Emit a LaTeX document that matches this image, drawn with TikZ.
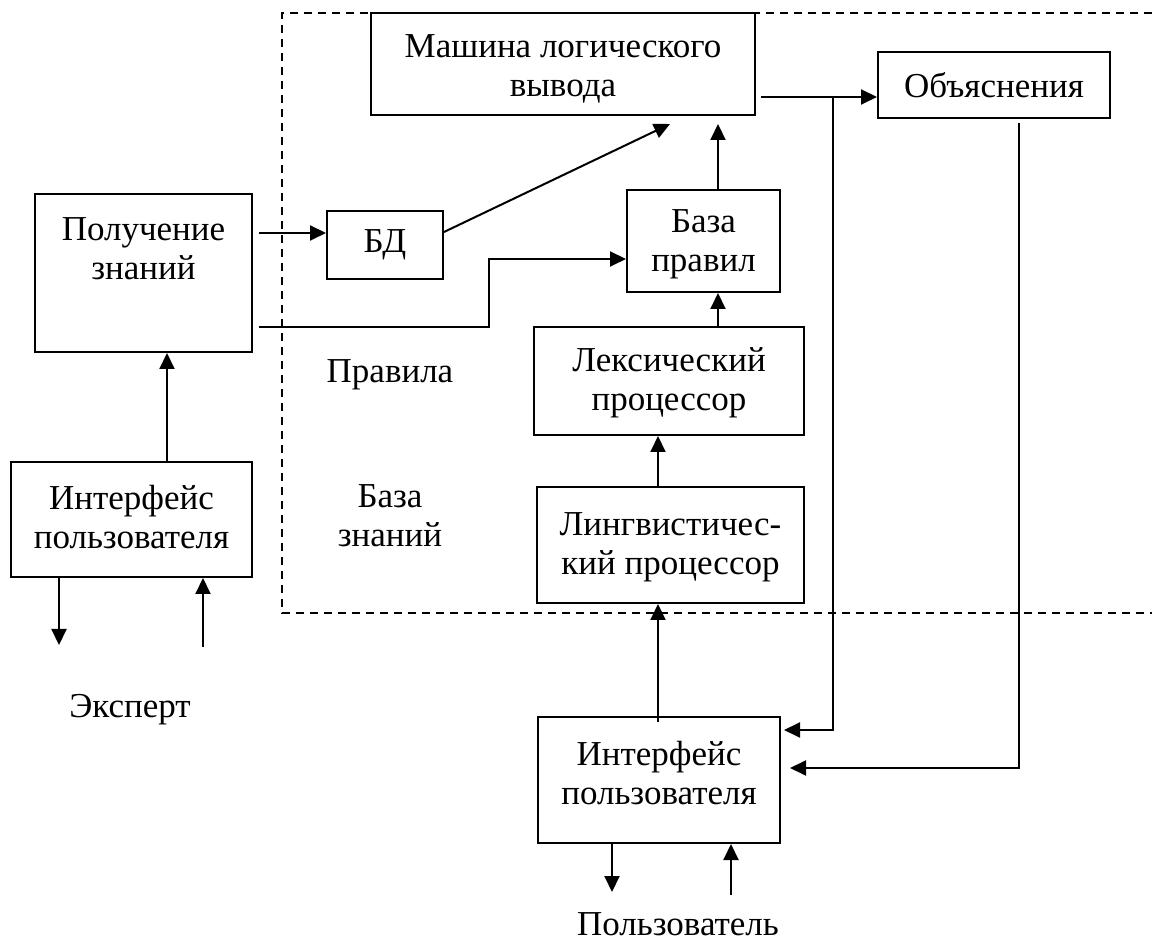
\documentclass[tikz,border=0pt]{standalone}
\usepackage{fontspec}
\setmainfont{Liberation Serif}
\usetikzlibrary{arrows.meta,calc}
\begin{document}
\begin{tikzpicture}[x=0.5pt,y=-0.5pt,
  every node/.style={font=\fontsize{17.5}{19.5}\selectfont, inner sep=0pt, align=center},
  box/.style={draw, line width=1pt},
  lbl/.style={},
  arr/.style={line width=1pt, -{Triangle[length=8pt,width=7.5pt]}},
  frame/.style={line width=1pt, dash pattern=on 4pt off 3pt}]
\useasboundingbox (0,0) rectangle (1152,940);
% dashed knowledge-base frame
\draw[frame] (1152,13) -- (282,13) -- (282,613) -- (1152,613);
% boxes
\node[box, minimum width=192pt, minimum height=51pt] (mach) at (563,64) {};
\node (macht) at (563,69) {Машина логического\\вывода};
\node[box, minimum width=116pt, minimum height=33pt] (expl) at (994,85) {Объяснения};
\node[box, minimum width=108.5pt, minimum height=79pt] (polu) at (143.5,273) {};
\node (polut) at (143.5,249) {Получение\\знаний};
\node[box, minimum width=58pt, minimum height=34pt] (bd) at (385,245) {БД};
\node[box, minimum width=76.5pt, minimum height=51pt] (base) at (703.5,241) {};
\node (baset) at (703.5,244) {База\\правил};
\node[box, minimum width=135pt, minimum height=54pt] (lex) at (669,381) {};
\node (lext) at (669,383) {Лексический\\процессор};
\node[box, minimum width=133.5pt, minimum height=58pt] (ling) at (670.5,545) {};
\node (lingt) at (670.5,547) {Лингвистичес-\\кий процессор};
\node[box, minimum width=120.5pt, minimum height=57.5pt] (ifl) at (131.5,519.5) {};
\node (iflt) at (131.5,517) {Интерфейс\\пользователя};
\node[box, minimum width=121pt, minimum height=63pt] (ifb) at (659,780) {};
\node (ifbt) at (659,773) {Интерфейс\\пользователя};
% free labels
\node[lbl] (rules) at (390,375) {Правила};
\node[lbl] (kb) at (390,516) {База\\знаний};
\node[lbl] (expert) at (130,710) {Эксперт};
\node[lbl] (user) at (678,924) {Пользователь};
% helper coordinates
\coordinate (x718) at (718,0);
\coordinate (x658) at (658,0);
\coordinate (x167) at (167,0);
\coordinate (y233) at (0,233);
\coordinate (y97) at (0,97);
\coordinate (pB) at (489,327);
\coordinate (pC) at (489,259);
\coordinate (br) at (833,97);
\coordinate (br2) at (833,730);
\coordinate (e1) at (1019,768);
\coordinate (eD) at (59,645);
\coordinate (eU) at (203,647);
\coordinate (fD) at (612,892);
\coordinate (fU) at (731,895);
% connectors
\draw[arr, shorten <=3pt] (polu.east |- y233) -- (bd.west |- y233);
\draw[arr, shorten <=3pt] (polu.east |- pB) -- (pB) -- (pC) -- (pC -| base.west);
\draw[arr] ($(bd.east)+(0,-13)$) -- ($(mach.south)+(107,8)$);
\draw[arr, shorten >=4pt] (base.north -| x718) -- (mach.south -| x718);
\draw[arr] (lex.north -| x718) -- (base.south -| x718);
\draw[arr] (ling.north -| x658) -- (lex.south -| x658);
\draw[arr] ($(ifb.north -| x658)+(0,6)$) -- (ling.south -| x658);
\draw[arr, shorten <=2.5pt] (mach.east |- y97) -- (expl.west |- y97);
\draw[arr, shorten >=1.5pt] (br) -- (br2) -- (br2 -| ifb.east);
\draw[arr, shorten <=2pt, shorten >=4.5pt] (expl.south -| e1) -- (e1) -- (e1 -| ifb.east);
\draw[arr] (ifl.north -| x167) -- (polu.south -| x167);
\draw[arr] (ifl.south -| eD) -- (eD);
\draw[arr] (eU) -- (ifl.south -| eU);
\draw[arr] (ifb.south -| fD) -- (fD);
\draw[arr] (fU) -- (ifb.south -| fU);
\end{tikzpicture}
\end{document}
